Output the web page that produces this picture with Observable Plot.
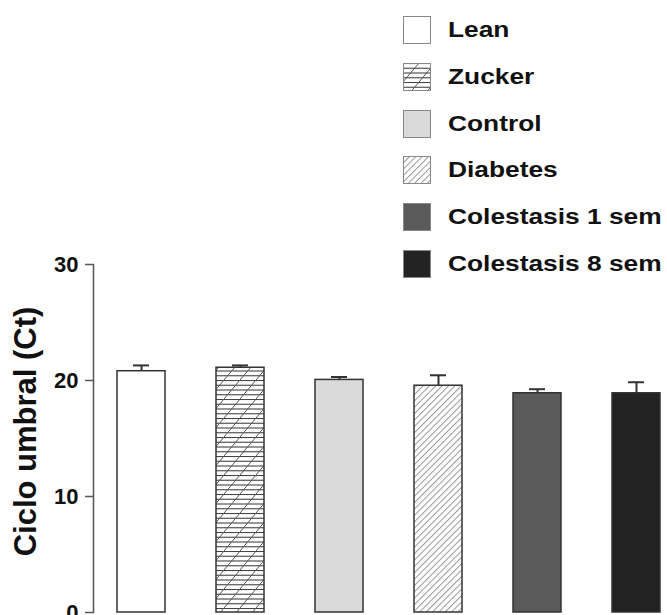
<!DOCTYPE html>
<html>
<head>
<meta charset="utf-8">
<script src="https://cdn.jsdelivr.net/npm/d3@7"></script>
<script src="https://cdn.jsdelivr.net/npm/@observablehq/plot@0.6"></script>
<style>
  html, body { margin: 0; padding: 0; background: white; }
  #wrap { position: relative; width: 667px; height: 615px; overflow: hidden; font-family: "Liberation Sans", Arial, sans-serif; }
  #legend { position: absolute; left: 403px; top: 16px; }
  .row { position: absolute; left: 0; height: 28px; display: flex; align-items: center; white-space: nowrap; }
  .row svg { display: block; }
  .row span { margin-left: 17px; font-size: 22.5px; font-weight: bold; line-height: 28px; color: #111; display: inline-block; transform: scaleX(1.17); transform-origin: left center; }
</style>
</head>
<body>
<svg width="0" height="0" style="position:absolute">
  <defs>
    <pattern id="pat-zucker" patternUnits="userSpaceOnUse" width="16" height="19">
      <rect width="16" height="19" fill="white"/>
      <line x1="0" y1="0.5" x2="16" y2="0.5" stroke="#444" stroke-width="1.1"/>
      <line x1="0" y1="5.25" x2="16" y2="5.25" stroke="#444" stroke-width="1.1"/>
      <line x1="0" y1="10" x2="16" y2="10" stroke="#444" stroke-width="1.1"/>
      <line x1="0" y1="14.75" x2="16" y2="14.75" stroke="#444" stroke-width="1.1"/>
      <line x1="0" y1="19" x2="16" y2="0" stroke="#555" stroke-width="1"/>
    </pattern>
    <pattern id="pat-diab" patternUnits="userSpaceOnUse" width="4.5" height="4.5" patternTransform="rotate(45)">
      <rect width="4.5" height="4.5" fill="white"/>
      <line x1="0.5" y1="0" x2="0.5" y2="4.5" stroke="#999" stroke-width="1"/>
    </pattern>
  </defs>
</svg>
<div id="wrap">
  <div id="chart"></div>
  <div id="legend"></div>
</div>
<script>
const groups = ["Lean", "Zucker", "Control", "Diabetes", "Colestasis 1 sem", "Colestasis 8 sem"];
const means = [20.8, 21.1, 20.05, 19.55, 18.9, 18.9];
const errors = [0.5, 0.2, 0.25, 0.9, 0.35, 0.95];
const yTicks = [0, 10, 20, 30];
const yLabel = "Ciclo umbral (Ct)";

const fills = ["white", "url(#pat-zucker)", "#dadada", "url(#pat-diab)", "#5a5a5a", "#232323"];

const data = groups.map((g, i) => ({group: g, mean: means[i], err: errors[i]}));

const plot = Plot.plot({
  width: 667,
  height: 615,
  marginTop: 264,
  marginBottom: 3,
  marginLeft: 93,
  marginRight: 6,
  style: {fontFamily: "'Liberation Sans', Arial, sans-serif", fontSize: "22px", fontWeight: "bold", color: "#111", background: "white"},
  x: {domain: groups, range: [117, 661], paddingInner: 0.515, paddingOuter: 0, axis: null},
  y: {domain: [0, 30], axis: null},
  color: {domain: groups, range: fills, type: "ordinal"},
  marks: [
    Plot.frame({anchor: "left", stroke: "#555", strokeWidth: 1.5}),
    Plot.axisY({ticks: yTicks, tickSize: 8, tickPadding: 7, stroke: "#555", strokeWidth: 1.5, fill: "#111", label: null, tickFormat: d => String(d)}),
    Plot.text([yLabel], {frameAnchor: "left", rotate: -90, dx: -67, dy: -7, fontSize: 31, fontWeight: "bold", fill: "#111", textAnchor: "middle", lineAnchor: "middle"}),
    Plot.barY(data, {x: "group", y: "mean", fill: "group", stroke: "#333", strokeWidth: 1.5}),
    Plot.ruleX(data, {x: "group", y1: "mean", y2: d => d.mean + d.err, stroke: "#333", strokeWidth: 2}),
    Plot.tickY(data, {x: "group", y: d => d.mean + d.err, insetLeft: 16, insetRight: 16, stroke: "#333", strokeWidth: 2})
  ]
});
document.getElementById("chart").appendChild(plot);

const legend = document.getElementById("legend");
groups.forEach((g, i) => {
  const row = document.createElement("div");
  row.className = "row";
  row.style.top = (i * 46.8) + "px";
  row.innerHTML = `<svg width="28" height="28"><rect x="0.5" y="0.5" width="27" height="27" fill="${fills[i]}" stroke="#888" stroke-width="1"/></svg><span>${g}</span>`;
  legend.appendChild(row);
});
</script>
</body>
</html>
